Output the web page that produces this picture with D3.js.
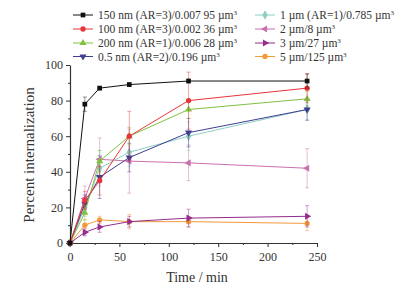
<!DOCTYPE html>
<html>
<head>
<meta charset="utf-8">
<script src="https://cdn.jsdelivr.net/npm/d3@7"></script>
<style>
  body { margin: 0; background: #fff; }
  text { font-family: "Liberation Serif", "DejaVu Serif", serif; }
</style>
</head>
<body>
<svg width="411" height="293"></svg>
<script>
const times = [0, 15, 30, 60, 120, 240];
const xTicks = [0, 50, 100, 150, 200, 250];
const yTicks = [0, 20, 40, 60, 80, 100];

const names = [
  "150 nm (AR=3)/0.007 95 µm", "100 nm (AR=3)/0.002 36 µm",
  "200 nm (AR=1)/0.006 28 µm", "0.5 nm (AR=2)/0.196 µm",
  "1 µm (AR=1)/0.785 µm", "2 µm/8 µm", "3 µm/27 µm", "5 µm/125 µm"
];
const colors = ["#111111", "#e8353a", "#7fc241", "#3e3e92", "#8ecfc4", "#cc6fae", "#952c8e", "#f39a3a"];
const shapes = ["square", "circle", "triangleUp", "triangleDown", "diamond", "triangleLeft", "triangleRight", "circle"];

const v150 = [0, 78, 87, 89, 91, 91];
const v100 = [0, 24, 35, 60, 80, 87];
const v200 = [0, 17, 46, 60, 75, 81];
const v05 = [0, 22, 37, 48, 62, 75];
const v1um = [0, 20, 42, 51, 60, 75];
const v2um = [0, 25, 47, 46, 45, 42];
const v3um = [0, 6, 9, 12, 14, 15];
const v5um = [0, 10, 13, 12, 12, 11];

const e150 = [0, 4, 1, 1, 1, 4];
const e100 = [0, 5, 8, 14, 16, 8];
const e200 = [0, 4, 6, 5, 5, 4];
const e05 = [0, 5, 12, 8, 8, 6];
const e1um = [0, 5, 10, 8, 8, 6];
const e2um = [0, 7, 12, 18, 10, 11];
const e3um = [0, 2, 3, 3, 5, 6];
const e5um = [0, 3, 2, 4, 3, 4];

const series = [v150, v100, v200, v05, v1um, v2um, v3um, v5um];
const errors = [e150, e100, e200, e05, e1um, e2um, e3um, e5um];

const svg = d3.select("svg");
const x = d3.scaleLinear().domain([0, 250]).range([70, 317]);
const y = d3.scaleLinear().domain([0, 100]).range([243, 65]);

// axes
const xAxis = svg.append("g").attr("transform", "translate(0,243)")
  .call(d3.axisBottom(x).tickValues(xTicks).tickSize(4).tickSizeOuter(0));
svg.append("g").attr("transform", "translate(0,243)")
  .call(d3.axisBottom(x).tickValues([25, 75, 125, 175, 225]).tickSize(2).tickFormat(""))
  .select(".domain").remove();
const yAxis = svg.append("g").attr("transform", "translate(70,0)")
  .call(d3.axisLeft(y).tickValues(yTicks).tickSize(4).tickSizeOuter(0));
svg.append("g").attr("transform", "translate(70,0)")
  .call(d3.axisLeft(y).tickValues([10, 30, 50, 70, 90]).tickSize(2).tickFormat(""))
  .select(".domain").remove();
svg.selectAll(".domain").attr("stroke", "#333").attr("stroke-width", 1.2);
svg.selectAll(".tick line").attr("stroke", "#333");
xAxis.selectAll("text").attr("font-size", 12).attr("fill", "#333").attr("dy", "0.9em");
yAxis.selectAll("text").attr("font-size", 12).attr("fill", "#333");

svg.append("text").attr("x", 197).attr("y", 282).attr("text-anchor", "middle")
  .attr("font-size", 14).attr("fill", "#333").text("Time / min");
svg.append("text").attr("transform", "translate(34,155) rotate(-90)")
  .attr("text-anchor", "middle").attr("font-size", 15).attr("fill", "#333")
  .text("Percent internalization");

const sym = {
  square: d3.symbolSquare, circle: d3.symbolCircle, diamond: d3.symbolDiamond,
  triangleUp: d3.symbolTriangle, triangleDown: d3.symbolTriangle,
  triangleLeft: d3.symbolTriangle, triangleRight: d3.symbolTriangle
};
const rot = { triangleDown: 180, triangleLeft: -90, triangleRight: 90 };
function marker(g, shape, cx, cy, color) {
  g.append("path")
    .attr("d", d3.symbol().type(sym[shape]).size(shape === "diamond" ? 26 : 22)())
    .attr("transform", `translate(${cx},${cy}) rotate(${rot[shape] || 0})`)
    .attr("fill", color);
}

const line = d3.line().x((d, i) => x(times[i])).y(d => y(d));

// draw back to front
for (let s = series.length - 1; s >= 0; s--) {
  const g = svg.append("g");
  const c = colors[s];
  times.forEach((t, i) => {
    const e = errors[s][i];
    if (!e) return;
    const v = series[s][i];
    g.append("line").attr("x1", x(t)).attr("x2", x(t)).attr("y1", y(v - e)).attr("y2", y(v + e))
      .attr("stroke", c).attr("stroke-opacity", 0.5).attr("stroke-width", 0.9);
    [v - e, v + e].forEach(w => g.append("line").attr("x1", x(t) - 2).attr("x2", x(t) + 2)
      .attr("y1", y(w)).attr("y2", y(w)).attr("stroke", c).attr("stroke-opacity", 0.5).attr("stroke-width", 0.9));
  });
  g.append("path").attr("d", line(series[s])).attr("fill", "none")
    .attr("stroke", c).attr("stroke-width", 1);
  times.forEach((t, i) => marker(g, shapes[s], x(t), y(series[s][i]), c));
}

// legend
const legRows = [15, 29, 43, 56.5];
names.forEach((n, i) => {
  const col = Math.floor(i / 4);
  const lx = col === 0 ? 73 : 255;
  const ly = legRows[i % 4];
  const g = svg.append("g");
  g.append("line").attr("x1", lx).attr("x2", lx + 20).attr("y1", ly).attr("y2", ly)
    .attr("stroke", colors[i]).attr("stroke-width", 1);
  marker(g, shapes[i], lx + 10, ly, colors[i]);
  const t = g.append("text").attr("x", lx + 25).attr("y", ly + 4)
    .attr("font-size", 11.5).attr("fill", "#333").text(n);
  t.append("tspan").attr("font-size", 7).attr("dy", -4).text("3");
});
</script>
</body>
</html>
